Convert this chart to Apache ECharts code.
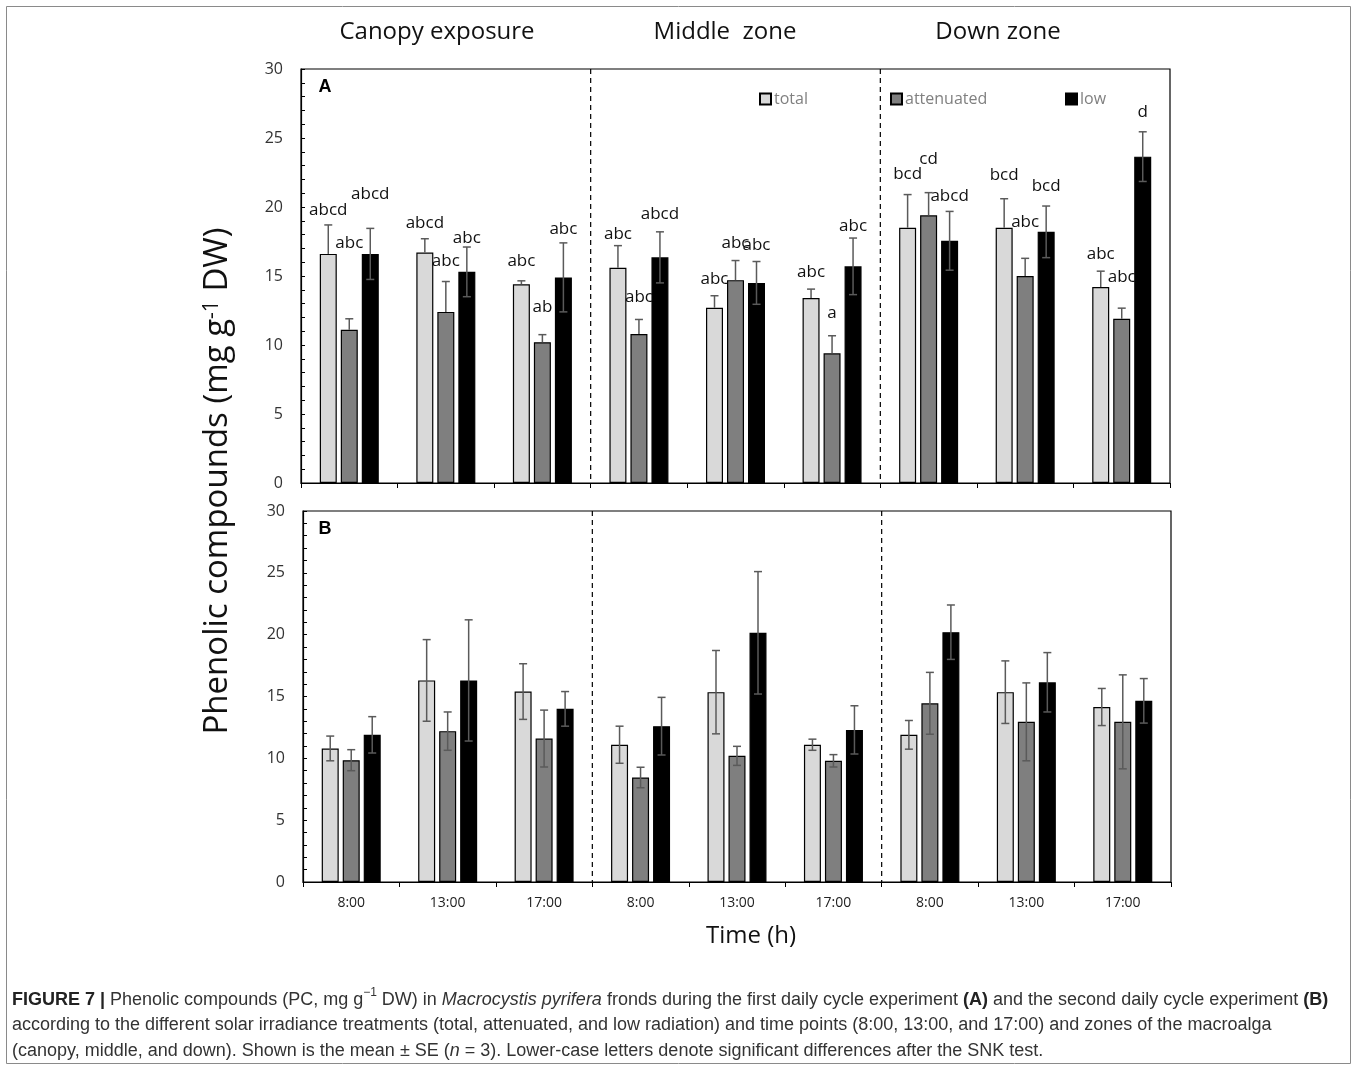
<!DOCTYPE html>
<html>
<head>
<meta charset="utf-8">
<script src="https://cdn.jsdelivr.net/npm/echarts@6/dist/echarts.min.js"></script>
<style>
  html, body { margin: 0; padding: 0; background: #fff; }
  #chart { width: 1357px; height: 1070px; }
</style>
</head>
<body>
<div id="chart"></div>
<script>
var times = ['8:00', '13:00', '17:00'];
var categories = times.concat(times, times);
var zones = ['Canopy exposure', 'Middle  zone', 'Down zone'];
var treatments = ['total', 'attenuated', 'low'];
var yTicks = [0, 5, 10, 15, 20, 25, 30];
var zoneBreaks = [3, 6];

// panel A (first daily cycle)
var totalA = [16.6, 16.7, 14.4, 15.6, 12.7, 13.4, 18.5, 18.5, 14.2];
var totalA_se = [2.1, 1.0, 0.25, 1.6, 0.87, 0.65, 2.4, 2.1, 1.15];
var attenA = [11.1, 12.4, 10.2, 10.8, 14.7, 9.4, 19.4, 15.0, 11.9];
var attenA_se = [0.8, 2.2, 0.55, 1.05, 1.42, 1.27, 1.64, 1.28, 0.77];
var lowA = [16.6, 15.3, 14.9, 16.35, 14.5, 15.7, 17.55, 18.2, 23.65];
var lowA_se = [1.85, 1.8, 2.5, 1.85, 1.55, 2.05, 2.13, 1.87, 1.8];

// SNK letters for panel A and the height (in mg/g) where each one sits
var totalA_letters = ['abcd', 'abcd', 'abc', 'abc', 'abc', 'abc', 'bcd', 'bcd', 'abc'];
var attenA_letters = ['abc', 'abc', 'ab', 'abc', 'abc', 'a', 'cd', 'abc', 'abc'];
var lowA_letters = ['abcd', 'abc', 'abc', 'abcd', 'abc', 'abc', 'abcd', 'bcd', 'd'];
var totalA_letterAt = [19.8, 18.8, 16.1, 18.0, 14.8, 15.3, 22.4, 22.3, 16.6];
var attenA_letterAt = [17.4, 16.1, 12.75, 13.5, 17.4, 12.3, 23.5, 18.9, 14.95];
var lowA_letterAt = [20.9, 17.75, 18.4, 19.5, 17.25, 18.6, 20.75, 21.5, 26.9];

// panel B (second daily cycle)
var totalB = [10.8, 16.3, 15.4, 11.1, 15.35, 11.1, 11.9, 15.35, 14.15];
var totalB_se = [1.0, 3.3, 2.25, 1.5, 3.37, 0.45, 1.16, 2.53, 1.5];
var attenB = [9.85, 12.2, 11.6, 8.45, 10.2, 9.8, 14.45, 12.95, 12.95];
var attenB_se = [0.85, 1.55, 2.3, 0.83, 0.77, 0.5, 2.5, 3.15, 3.8];
var lowB = [11.9, 16.3, 14.0, 12.6, 20.15, 12.3, 20.2, 16.15, 14.65];
var lowB_se = [1.47, 4.9, 1.4, 2.33, 4.95, 1.95, 2.2, 2.4, 1.8];

var colors = ['#d9d9d9', '#7f7f7f', '#000000'];
var BAR_W = 17, BAR_GAP = 4, STEP = BAR_W + BAR_GAP;
var FONT = '"Open Sans", "Noto Sans", sans-serif';

var myChart = echarts.init(document.getElementById('chart'));

function barSeries(g, k, vals) {
  return {
    name: treatments[k], type: 'bar', xAxisIndex: g, yAxisIndex: g,
    data: vals, barWidth: BAR_W, barGap: (BAR_GAP / BAR_W * 100) + '%',
    itemStyle: { color: colors[k], borderColor: '#000', borderWidth: 1.2 },
    z: 2
  };
}

function errSeries(g, k, vals, ses, both) {
  return {
    type: 'custom', xAxisIndex: g, yAxisIndex: g, z: 5, silent: true,
    data: vals.map(function (v, i) { return [i, v, ses[i]]; }),
    renderItem: function (params, api) {
      var i = api.value(0), v = api.value(1), se = api.value(2);
      var x = api.coord([i, v])[0] + (k - 1) * STEP;
      var yTop = api.coord([i, v + se])[1];
      var yBot = api.coord([i, both ? v - se : v])[1];
      var st = { stroke: '#5a5a5a', lineWidth: 1.5 };
      var kids = [
        { type: 'line', shape: { x1: x, y1: yTop, x2: x, y2: yBot }, style: st },
        { type: 'line', shape: { x1: x - 4, y1: yTop, x2: x + 4, y2: yTop }, style: st }
      ];
      if (both) kids.push({ type: 'line', shape: { x1: x - 4, y1: yBot, x2: x + 4, y2: yBot }, style: st });
      return { type: 'group', children: kids };
    }
  };
}

function letterSeries(k, letters, at) {
  return {
    type: 'custom', xAxisIndex: 0, yAxisIndex: 0, z: 6, silent: true, clip: false,
    data: at.map(function (v, i) { return [i, v]; }),
    renderItem: function (params, api) {
      var p = api.coord([api.value(0), api.value(1)]);
      return {
        type: 'text',
        style: {
          text: letters[params.dataIndex], x: p[0] + (k - 1) * STEP, y: p[1],
          align: 'center', verticalAlign: 'middle',
          fill: '#111', fontSize: 17, fontFamily: FONT
        }
      };
    }
  };
}

function breakSeries(g) {
  return {
    type: 'custom', xAxisIndex: g, yAxisIndex: g, z: 1, silent: true,
    data: zoneBreaks.map(function (b) { return [b, yTicks[0]]; }),
    renderItem: function (params, api) {
      var idx = zoneBreaks[params.dataIndex];
      var x = (api.coord([idx - 1, 0])[0] + api.coord([idx, 0])[0]) / 2;
      var top = api.coord([idx, yTicks[yTicks.length - 1]])[1];
      var bot = api.coord([idx, yTicks[0]])[1];
      return {
        type: 'line', shape: { x1: x, y1: top, x2: x, y2: bot },
        style: { stroke: '#000', lineWidth: 1.2, lineDash: [5, 4] }
      };
    }
  };
}

function yAxis(g) {
  return {
    type: 'value', gridIndex: g, min: yTicks[0], max: yTicks[yTicks.length - 1], interval: 1,
    axisLine: { show: true, lineStyle: { color: '#000', width: 1.2 } },
    axisTick: { show: true, inside: true, length: 4, lineStyle: { color: '#000' } },
    axisLabel: {
      margin: 18, fontSize: 16, color: '#333', fontFamily: FONT,
      formatter: function (v) { return yTicks.indexOf(v) >= 0 ? String(v) : ''; }
    },
    splitLine: { show: false }
  };
}

function xAxis(g, showLabels) {
  return {
    type: 'category', gridIndex: g, data: categories,
    axisLine: { lineStyle: { color: '#000', width: 1.2 } },
    axisTick: { show: true, length: 5, lineStyle: { color: '#000' } },
    axisLabel: { show: showLabels, margin: 14, fontSize: 14, color: '#222', fontFamily: FONT, interval: 0 }
  };
}

function legend(k, left) {
  return {
    data: [treatments[k]], left: left, top: 91, padding: 0,
    icon: 'rect', itemWidth: 11, itemHeight: 11, itemGap: 5, selectedMode: false,
    textStyle: { color: '#808080', fontSize: 16, fontFamily: FONT, lineHeight: 16, padding: [0, 0, 0, -2] }
  };
}

var caption =
  '{b|FIGURE 7 |} Phenolic compounds (PC, mg g{sup|\u22121} DW) in {i|Macrocystis pyrifera} fronds during the first daily cycle experiment {b|(A)} and the second daily cycle experiment {b|(B)}\n' +
  'according to the different solar irradiance treatments (total, attenuated, and low radiation) and time points (8:00, 13:00, and 17:00) and zones of the macroalga\n' +
  '(canopy, middle, and down). Shown is the mean \u00b1 SE ({i|n} = 3). Lower-case letters denote significant differences after the SNK test.';

var capFont = '"Liberation Sans", Arial, sans-serif';
var CAP = 18;
var graphics = [
  { type: 'rect', shape: { x: 6.5, y: 6.5, width: 1344, height: 1057 }, style: { fill: 'none', stroke: '#8a8a8a', lineWidth: 1 }, z: -1 },
  { type: 'text', x: 218, y: 481, rotation: Math.PI / 2,
    style: { text: 'Phenolic compounds (mg g{sup|-1} DW)', align: 'center', verticalAlign: 'middle',
      fill: '#111', fontSize: 33, fontFamily: FONT,
      rich: { sup: { fontSize: 21, verticalAlign: 'top', fill: '#111', fontFamily: FONT } } } },
  { type: 'text', x: 751, y: 936, style: { text: 'Time (h)', align: 'center', verticalAlign: 'middle', fill: '#111', fontSize: 24, fontFamily: FONT } },
  { type: 'text', x: 325, y: 87, style: { text: 'A', align: 'center', verticalAlign: 'middle', fill: '#000', fontSize: 18, fontWeight: 'bold', fontFamily: capFont } },
  { type: 'text', x: 325, y: 529, style: { text: 'B', align: 'center', verticalAlign: 'middle', fill: '#000', fontSize: 18, fontWeight: 'bold', fontFamily: capFont } },
  { type: 'text', x: 12, y: 987,
    style: { text: caption, fill: '#333', fontSize: CAP, fontFamily: capFont, lineHeight: 25.5,
      rich: {
        b: { fontWeight: 'bold', fontSize: CAP, fontFamily: capFont, fill: '#222', lineHeight: 25.5 },
        i: { fontStyle: 'italic', fontSize: CAP, fontFamily: capFont, fill: '#333', lineHeight: 25.5 },
        sup: { fontSize: 12, verticalAlign: 'top', fontFamily: capFont, fill: '#333', lineHeight: 20 }
      } } }
];
var zoneX = [437, 725, 998];
zones.forEach(function (z, i) {
  graphics.push({ type: 'text', x: zoneX[i], y: 32, style: { text: z, align: 'center', verticalAlign: 'middle', fill: '#111', fontSize: 24, fontFamily: FONT } });
});

option = {
  backgroundColor: '#fff',
  animation: false,
  legend: [legend(0, 759), legend(1, 890), legend(2, 1065)],
  grid: [
    { left: 301, top: 69, width: 869, height: 414, show: true, borderColor: '#000', borderWidth: 1.2, backgroundColor: 'transparent' },
    { left: 303, top: 511, width: 868, height: 371, show: true, borderColor: '#000', borderWidth: 1.2, backgroundColor: 'transparent' }
  ],
  xAxis: [xAxis(0, false), xAxis(1, true)],
  yAxis: [yAxis(0), yAxis(1)],
  graphic: graphics,
  series: [
    breakSeries(0), breakSeries(1),
    barSeries(0, 0, totalA), barSeries(0, 1, attenA), barSeries(0, 2, lowA),
    barSeries(1, 0, totalB), barSeries(1, 1, attenB), barSeries(1, 2, lowB),
    errSeries(0, 0, totalA, totalA_se, false), errSeries(0, 1, attenA, attenA_se, false), errSeries(0, 2, lowA, lowA_se, true),
    errSeries(1, 0, totalB, totalB_se, true), errSeries(1, 1, attenB, attenB_se, true), errSeries(1, 2, lowB, lowB_se, true),
    letterSeries(0, totalA_letters, totalA_letterAt),
    letterSeries(1, attenA_letters, attenA_letterAt),
    letterSeries(2, lowA_letters, lowA_letterAt)
  ]
};

myChart.setOption(option);
</script>
</body>
</html>
